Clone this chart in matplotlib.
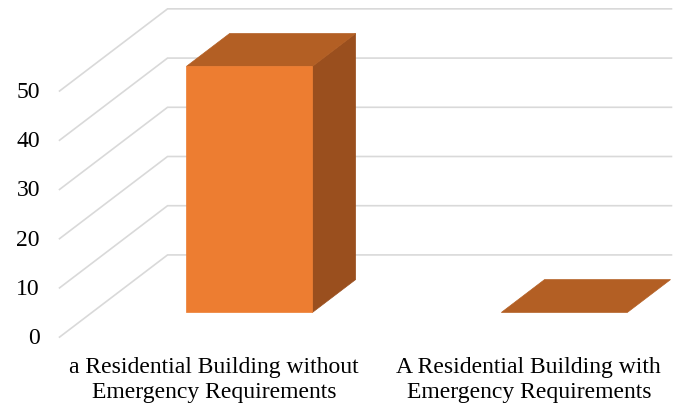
import numpy as np
import matplotlib.pyplot as plt
from matplotlib.patches import Polygon

categories = ['a Residential Building without\nEmergency Requirements',
              'A Residential Building with\nEmergency Requirements']
values = [50, 0]
yticks = [0, 10, 20, 30, 40, 50]

# oblique projection of the depth axis (data units)
DX = 0.343
DY = 16.7
bar_w = 0.4
d0, d1 = 0.3, 0.7

front_c = '#ED7D31'
top_c = '#B35F24'
side_c = '#9A4F1E'
grid_c = '#D9D9D9'


def proj(x, y, d):
    return (x + d * DX, y + d * DY)


fig = plt.figure(figsize=(6.79, 4.07), dpi=100)
ax = fig.add_axes([0, 0, 1, 1])
ax.set_xlim(-0.689, 1.467)
ax.set_ylim(-14.2, 68.5)
ax.axis('off')

# gridlines: side wall diagonal + back wall horizontal
x_left = -0.5
x_right = 1.1
for t in yticks:
    p0 = proj(x_left, t, 0)
    p1 = proj(x_left, t, 1)
    p2 = proj(x_right, t, 1)
    ax.plot([p0[0], p1[0], p2[0]], [p0[1], p1[1], p2[1]], color=grid_c,
            lw=1.2, zorder=1, solid_joinstyle='miter')
    ax.text(p0[0] - 0.062, t - 0.3, str(t), ha='right', va='center',
            fontsize=17, family='Liberation Serif')

# bars
for i, v in enumerate(values):
    xl, xr = i - bar_w / 2, i + bar_w / 2
    if v > 0:
        front = [proj(xl, 0, d0), proj(xr, 0, d0), proj(xr, v, d0), proj(xl, v, d0)]
        side = [proj(xr, 0, d0), proj(xr, 0, d1), proj(xr, v, d1), proj(xr, v, d0)]
        ax.add_patch(Polygon(side, closed=True, fc=side_c, ec=side_c, lw=0.5, zorder=3))
        ax.add_patch(Polygon(front, closed=True, fc=front_c, ec=front_c, lw=0.5, zorder=4))
    top = [proj(xl, v, d0), proj(xr, v, d0), proj(xr, v, d1), proj(xl, v, d1)]
    ax.add_patch(Polygon(top, closed=True, fc=top_c, ec=top_c, lw=0.5, zorder=3))

# category labels
for i, lab in enumerate(categories):
    ax.text(i - 0.01, -8.7, lab, ha='center', va='center', fontsize=17,
            family='Liberation Serif', linespacing=1.22)

fig.savefig('out.png', dpi=100)
